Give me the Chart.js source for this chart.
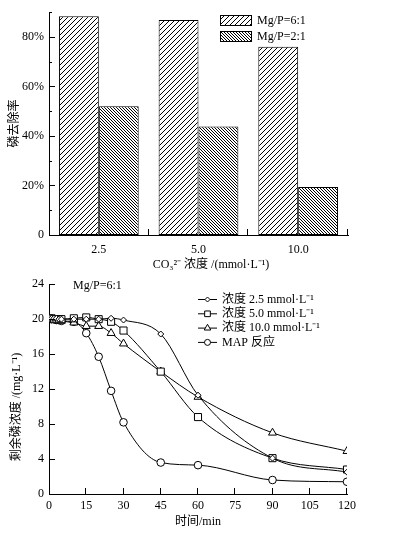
<html lang="zh">
<head>
<meta charset="UTF-8">
<title>CO3 浓度与磷去除</title>
<script src="https://cdn.jsdelivr.net/npm/chart.js@4.4.0/dist/chart.umd.min.js"></script>
<style>
  body { margin: 0; background: #fff; }
  canvas { position: absolute; left: 0; }
  #bars { top: 0; }
  #lines { top: 272px; }
</style>
</head>
<body>
<canvas id="bars" width="394" height="272"></canvas>
<canvas id="lines" width="394" height="266"></canvas>

<script>
// ---- data, top chart (removal rate, %)
var concLabels = ['2.5', '5.0', '10.0'];
var removal61 = [88.4, 86.8, 76.0];
var removal21 = [52.0, 43.8, 19.4];
var rateTicks = [0, 20, 40, 60, 80];
var rateMinor = [10, 30, 50, 70, 90];

// ---- data, bottom chart (residual P, mg/L)
var times = [0, 1, 2, 3, 4, 5, 10, 15, 20, 25, 30, 45, 60, 90, 120];
var conc25 = [20.1, 20.1, 20.1, 20.1, 20.0, 20.0, 20.0, 20.0, 20.0, 20.1, 19.9, 18.3, 11.3, 4.1, 2.5];
var conc50 = [20.1, 20.1, 20.0, 20.0, 20.0, 20.0, 20.1, 20.2, 20.0, 19.7, 18.7, 14.0, 8.8, 4.1, 2.8];
var conc100 = [20.0, 20.0, 19.9, 19.9, 19.9, 19.8, 19.6, 19.2, 19.2, 18.4, 17.2, 14.0, 11.1, 7.0, 4.9];
var concMap = [20.0, 20.0, 20.0, 19.9, 19.9, 19.8, 19.7, 18.4, 15.7, 11.8, 8.2, 3.6, 3.3, 1.6, 1.4];
var seriesNames = ['浓度 2.5 mmol·L⁻¹', '浓度 5.0 mmol·L⁻¹', '浓度 10.0 mmol·L⁻¹', 'MAP 反应'];
var timeTicks = [0, 15, 30, 45, 60, 75, 90, 105, 120];
var residTicks = [0, 4, 8, 12, 16, 20, 24];

Chart.defaults.font.family = '"Liberation Serif", "Noto Sans CJK SC", serif';
Chart.defaults.font.size = 11;
Chart.defaults.color = '#000';

var cjkFont = '12px "Liberation Serif", "Noto Sans CJK SC", serif';

// hatch fill: dir 1 = '/', dir -1 = '\'
function hatch(step, dir) {
    var c = document.createElement('canvas');
    c.width = step; c.height = step;
    var g = c.getContext('2d');
    g.fillStyle = '#fff';
    g.fillRect(0, 0, step, step);
    g.strokeStyle = '#000';
    g.lineWidth = 1;
    g.beginPath();
    if (dir > 0) {
        g.moveTo(0, step); g.lineTo(step, 0);
        g.moveTo(-1, 1); g.lineTo(1, -1);
        g.moveTo(step - 1, step + 1); g.lineTo(step + 1, step - 1);
    } else {
        g.moveTo(0, 0); g.lineTo(step, step);
        g.moveTo(step - 1, -1); g.lineTo(step + 1, 1);
        g.moveTo(-1, step - 1); g.lineTo(1, step + 1);
    }
    g.stroke();
    return g.createPattern(c, 'repeat');
}
var hatchWide = hatch(5, 1);
var hatchDense = hatch(3, -1);

function marker(ctx, style, x, y, r) {
    ctx.beginPath();
    if (style === 'circle') {
        ctx.arc(x, y, r, 0, Math.PI * 2);
    } else if (style === 'rect') {
        var s = r * Math.SQRT1_2;
        ctx.rect(x - s, y - s, 2 * s, 2 * s);
    } else if (style === 'triangle') {
        ctx.moveTo(x, y - r);
        ctx.lineTo(x + r * 0.866, y + r * 0.5);
        ctx.lineTo(x - r * 0.866, y + r * 0.5);
        ctx.closePath();
    } else {
        ctx.moveTo(x, y - r); ctx.lineTo(x + r, y);
        ctx.lineTo(x, y + r); ctx.lineTo(x - r, y);
        ctx.closePath();
    }
    ctx.fillStyle = '#fff';
    ctx.fill();
    ctx.stroke();
}

// inward tick marks + extra texts
var decor = {
    id: 'decor',
    afterDraw: function (chart, args, o) {
        var ctx = chart.ctx, xs = chart.scales.x, ys = chart.scales.y;
        ctx.save();
        ctx.strokeStyle = '#000';
        ctx.lineWidth = 1;
        ctx.beginPath();
        (o.yMajor || []).forEach(function (v) {
            var py = Math.round(ys.getPixelForValue(v)) + 0.5;
            ctx.moveTo(xs.left, py); ctx.lineTo(xs.left + 6, py);
        });
        (o.yMinor || []).forEach(function (v) {
            var py = Math.round(ys.getPixelForValue(v)) + 0.5;
            ctx.moveTo(xs.left, py); ctx.lineTo(xs.left + 3, py);
        });
        var xv = o.xMajor || [];
        if (o.xBounds) {
            xv = [];
            for (var i = 1; i <= o.xBounds; i++) xv.push(xs.left + (xs.right - xs.left) * i / o.xBounds);
        } else {
            xv = xv.map(function (v) { return xs.getPixelForValue(v); });
        }
        xv.forEach(function (px) {
            px = Math.round(px) - 0.5;
            ctx.moveTo(px, ys.bottom); ctx.lineTo(px, ys.bottom - 6);
        });
        ctx.stroke();

        (o.texts || []).forEach(function (t) {
            ctx.save();
            ctx.font = t.font || cjkFont;
            ctx.fillStyle = '#000';
            ctx.textAlign = t.align || 'center';
            ctx.textBaseline = 'middle';
            ctx.translate(t.x, t.y);
            if (t.rotate) ctx.rotate(-Math.PI / 2);
            ctx.fillText(t.text, 0, 0);
            ctx.restore();
        });
        if (o.draw) o.draw(ctx);
        ctx.restore();
    }
};

new Chart(document.getElementById('bars'), {
    type: 'bar',
    data: {
        labels: concLabels,
        datasets: [
            { label: 'Mg/P=6:1', data: removal61, backgroundColor: hatchWide, borderColor: '#000', borderWidth: 1, borderSkipped: false },
            { label: 'Mg/P=2:1', data: removal21, backgroundColor: hatchDense, borderColor: '#000', borderWidth: 1, borderSkipped: false }
        ]
    },
    options: {
        responsive: false,
        animation: false,
        layout: { padding: { top: 9, right: 46, left: 0, bottom: 0 } },
        datasets: { bar: { categoryPercentage: 0.8, barPercentage: 1 } },
        plugins: {
            legend: { display: false },
            tooltip: { enabled: false },
            decor: {
                yMajor: rateTicks,
                yMinor: rateMinor,
                xBounds: concLabels.length,
                texts: [
                    { text: 'CO₃²⁻ 浓度 /(mmol·L⁻¹)', x: 211, y: 265 }
                ],
                draw: function (ctx) {
                    var names = ['Mg/P=6:1', 'Mg/P=2:1'], fills = [hatchWide, hatchDense];
                    ctx.font = '12px "Liberation Serif", serif';
                    ctx.textAlign = 'left';
                    ctx.textBaseline = 'middle';
                    for (var i = 0; i < 2; i++) {
                        var y = 15 + i * 16;
                        ctx.fillStyle = fills[i];
                        ctx.fillRect(220, y, 31, 10);
                        ctx.strokeRect(220.5, y + 0.5, 31, 10);
                        ctx.fillStyle = '#000';
                        ctx.fillText(names[i], 257, y + 6);
                    }
                }
            }
        },
        scales: {
            x: {
                grid: { display: false, drawTicks: false },
                border: { color: '#000' },
                ticks: { padding: 8, font: { size: 12 } },
                afterFit: function (s) { s.height = 37; }
            },
            y: {
                min: 0, max: 90,
                grid: { display: false, drawTicks: false },
                border: { color: '#000' },
                ticks: {
                    padding: 5, font: { size: 12 },
                    callback: function (v) { return v === 0 ? '0' : v + '%'; }
                },
                afterBuildTicks: function (s) { s.ticks = rateTicks.map(function (v) { return { value: v }; }); },
                afterFit: function (s) { s.width = 49; },
                title: { display: true, text: '磷去除率', font: { size: 12 }, padding: { top: 8, bottom: 0 } }
            }
        }
    },
    plugins: [decor]
});

var styles = ['rectRot', 'rect', 'triangle', 'circle'];
var radii = [3, 5, 4.6, 3.8];
var allSeries = [conc25, conc50, conc100, concMap];

new Chart(document.getElementById('lines'), {
    type: 'line',
    data: {
        datasets: allSeries.map(function (vals, k) {
            return {
                label: seriesNames[k],
                data: times.map(function (t, i) { return { x: t, y: vals[i] }; }),
                pointStyle: styles[k],
                pointRadius: radii[k]
            };
        })
    },
    options: {
        responsive: false,
        animation: false,
        layout: { padding: { top: 7, right: 47, left: 0, bottom: 0 } },
        elements: {
            line: { borderColor: '#000', borderWidth: 1, cubicInterpolationMode: 'monotone', fill: false },
            point: { backgroundColor: '#fff', borderColor: '#000', borderWidth: 1 }
        },
        plugins: {
            legend: { display: false },
            tooltip: { enabled: false },
            decor: {
                yMajor: residTicks,
                xMajor: timeTicks.slice(1),
                texts: [
                    { text: '剩余磷浓度 /(mg·L⁻¹)', x: 17, y: 135, rotate: true },
                    { text: 'Mg/P=6:1', x: 73, y: 14, align: 'left', font: '12px "Liberation Serif", serif' }
                ],
                draw: function (ctx) {
                    var mk = ['diamond', 'rect', 'triangle', 'circle'], mr = [2.5, 4, 3.8, 3];
                    ctx.font = '12px "Liberation Serif", "Noto Sans CJK SC", serif';
                    ctx.textAlign = 'left';
                    ctx.textBaseline = 'middle';
                    for (var i = 0; i < 4; i++) {
                        var y = 27.5 + i * 14.3;
                        ctx.beginPath();
                        ctx.moveTo(198, y); ctx.lineTo(217, y);
                        ctx.stroke();
                        marker(ctx, mk[i], 207.5, y, mr[i]);
                        ctx.fillStyle = '#000';
                        ctx.fillText(seriesNames[i], 222, y);
                    }
                }
            }
        },
        scales: {
            x: {
                type: 'linear', min: 0, max: 120,
                grid: { display: false, drawTicks: false },
                border: { color: '#000' },
                ticks: { padding: 5, font: { size: 12 } },
                afterBuildTicks: function (s) { s.ticks = timeTicks.map(function (v) { return { value: v }; }); },
                afterFit: function (s) { s.height = 44; },
                title: { display: true, text: '时间/min', font: { size: 12 }, padding: { top: 0, bottom: 9 } }
            },
            y: {
                min: 0, max: 24,
                grid: { display: false, drawTicks: false },
                border: { color: '#000' },
                ticks: { padding: 5, font: { size: 12 } },
                afterBuildTicks: function (s) { s.ticks = residTicks.map(function (v) { return { value: v }; }); },
                afterFit: function (s) { s.width = 49; }
            }
        }
    },
    plugins: [decor]
});
</script>
</body>
</html>
